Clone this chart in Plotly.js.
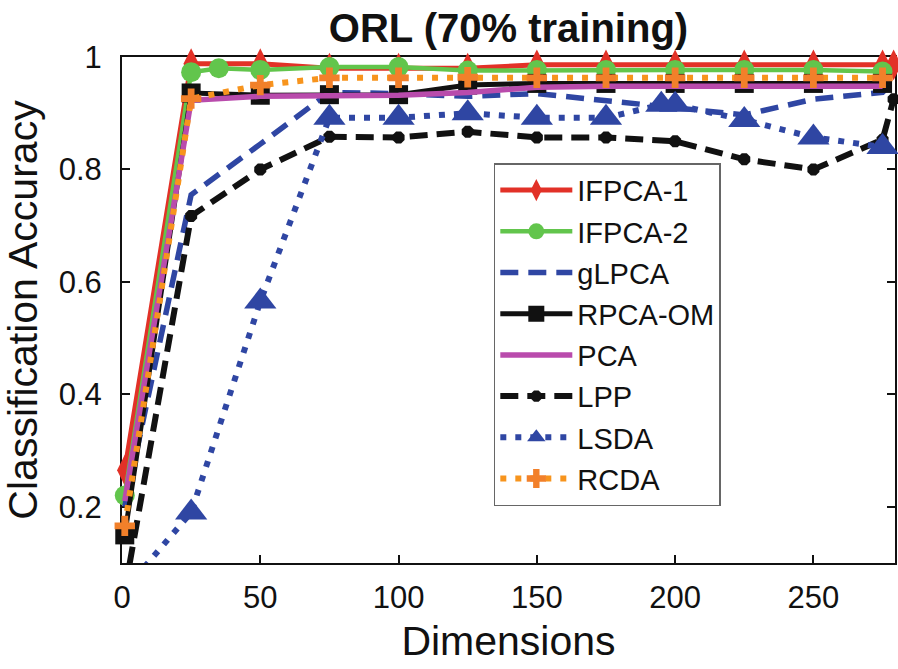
<!DOCTYPE html>
<html>
<head>
<meta charset="utf-8">
<script src="https://cdn.plot.ly/plotly-3.0.1.min.js"></script>
<style>
html, body { margin: 0; padding: 0; background: #fff; }
#chart { width: 898px; height: 669px; }
</style>
</head>
<body>
<div id="chart"></div>
<script>
// ---- data ----
const seriesNames = ["IFPCA-1", "IFPCA-2", "gLPCA", "RPCA-OM", "PCA", "LPP", "LSDA", "RCDA"];

const xIFPCA1 = [1, 25, 50, 75, 100, 125, 150, 175, 200, 225, 250, 275, 279];
const yIFPCA1 = [0.265, 0.988, 0.988, 0.98, 0.98, 0.98, 0.986, 0.986, 0.986, 0.986, 0.986, 0.986, 0.986];

const xIFPCA2 = [1, 25, 35, 50, 75, 100, 125, 150, 175, 200, 225, 250, 275];
const yIFPCA2 = [0.22, 0.973, 0.98, 0.977, 0.982, 0.982, 0.976, 0.977, 0.977, 0.977, 0.977, 0.977, 0.974];

const xGLPCA = [1, 25, 50, 75, 100, 125, 150, 175, 200, 225, 250, 275, 279];
const yGLPCA = [0.2, 0.755, 0.845, 0.937, 0.935, 0.93, 0.935, 0.922, 0.91, 0.897, 0.925, 0.937, 0.957];

const xRPCAOM = [1, 25, 50, 75, 100, 125, 150, 175, 200, 225, 250, 275];
const yRPCAOM = [0.15, 0.936, 0.932, 0.933, 0.933, 0.95, 0.953, 0.953, 0.953, 0.953, 0.953, 0.953];

const xPCA = [1, 25, 50, 75, 100, 125, 150, 175, 200, 225, 250, 275];
const yPCA = [0.21, 0.923, 0.93, 0.93, 0.932, 0.937, 0.946, 0.948, 0.948, 0.948, 0.948, 0.948];

const xLPP = [1, 25, 50, 75, 100, 125, 150, 175, 200, 225, 250, 275, 279];
const yLPP = [0.05, 0.717, 0.8, 0.858, 0.857, 0.867, 0.857, 0.857, 0.85, 0.818, 0.8, 0.853, 0.925];

const xLSDA = [1, 25, 50, 75, 100, 125, 150, 175, 195, 200, 225, 250, 275];
const yLSDA = [0.052, 0.19, 0.565, 0.892, 0.892, 0.9, 0.892, 0.892, 0.915, 0.915, 0.888, 0.857, 0.84];

const xRCDA = [1, 25, 50, 75, 100, 125, 150, 175, 200, 225, 250, 275];
const yRCDA = [0.166, 0.926, 0.95, 0.963, 0.963, 0.964, 0.963, 0.963, 0.963, 0.963, 0.963, 0.963];

const xTickVals = [0, 50, 100, 150, 200, 250];
const xTickText = ["0", "50", "100", "150", "200", "250"];
const yTickVals = [0.2, 0.4, 0.6, 0.8, 1];
const yTickText = ["0.2", "0.4", "0.6", "0.8", "1"];

const chartTitle = "ORL (70% training)";
const xTitle = "Dimensions";
const yTitle = "Classification Accuracy";

// ---- styles ----
const FONT = "Arial, 'Liberation Sans', Helvetica, sans-serif";
function hideFirst(n, s) { return Array.from({length: n}, (_, i) => i === 0 ? 0 : s); }

const traces = [
  { x: xIFPCA1, y: yIFPCA1, name: seriesNames[0], mode: "lines+markers",
    line: { color: "#e23127", width: 5 },
    marker: { symbol: "diamond-tall", size: 22, color: "#e23127" } },
  { x: xIFPCA2, y: yIFPCA2, name: seriesNames[1], mode: "lines+markers",
    line: { color: "#62c54c", width: 4.5 },
    marker: { symbol: "circle", size: 20, color: "#62c54c" } },
  { x: xGLPCA, y: yGLPCA, name: seriesNames[2], mode: "lines",
    line: { color: "#2f46a3", width: 5.5, dash: "18px,10px" } },
  { x: xRPCAOM, y: yRPCAOM, name: seriesNames[3], mode: "lines+markers",
    line: { color: "#111111", width: 5 },
    marker: { symbol: "square", size: 19, color: "#111111" } },
  { x: xPCA, y: yPCA, name: seriesNames[4], mode: "lines",
    line: { color: "#b94bac", width: 5.5 } },
  { x: xLPP, y: yLPP, name: seriesNames[5], mode: "lines+markers",
    line: { color: "#111111", width: 6, dash: "18px,9px" },
    marker: { symbol: "octagon", size: hideFirst(xLPP.length, 13), color: "#111111" } },
  { x: xLSDA, y: yLSDA, name: seriesNames[6], mode: "lines+markers",
    line: { color: "#2f46a3", width: 6, dash: "6px,9px" },
    marker: { symbol: "triangle-up", size: hideFirst(xLSDA.length, 28), color: "#2f46a3" } },
  { x: xRCDA, y: yRCDA, name: seriesNames[7], mode: "lines+markers",
    line: { color: "#f7941d", width: 6, dash: "6px,9px" },
    marker: { symbol: "cross", size: 17, color: "#f2802a" } }
];
traces.forEach((t, i) => {
  t.cliponaxis = false; t.legendgroup = "g" + i; t.type = "scatter";
  if (t.marker) { t.marker.opacity = 1; t.marker.line = { width: 0 }; }
});

const layout = {
  width: 898, height: 669,
  margin: { l: 122, r: 3, t: 57, b: 106, pad: 0 },
  paper_bgcolor: "#ffffff", plot_bgcolor: "#ffffff",
  font: { family: FONT, color: "#111111" },
  showlegend: true,
  title: { text: chartTitle, font: { family: FONT, size: 40, weight: "bold", color: "#111111" },
           x: 0.5, xref: "paper", xanchor: "center", y: 0.958, yref: "container", yanchor: "middle" },
  xaxis: {
    range: [0, 279.5], tickvals: xTickVals, ticktext: xTickText,
    ticks: "inside", ticklen: 8, tickwidth: 2, tickcolor: "#111",
    showline: true, linecolor: "#111", linewidth: 2, mirror: "ticks",
    showgrid: false, zeroline: false, layer: "below traces",
    tickfont: { family: FONT, size: 31, color: "#111" }, ticklabelstandoff: 6,
    title: { text: xTitle, font: { family: FONT, size: 41, color: "#111" }, standoff: 12 }
  },
  yaxis: {
    range: [0.1, 1], tickvals: yTickVals, ticktext: yTickText,
    ticks: "inside", ticklen: 8, tickwidth: 2, tickcolor: "#111",
    showline: true, linecolor: "#111", linewidth: 2, mirror: "ticks",
    showgrid: false, zeroline: false, layer: "below traces",
    tickfont: { family: FONT, size: 31, color: "#111" }, ticklabelstandoff: 12,
    title: { text: yTitle, font: { family: FONT, size: 41, color: "#111" }, standoff: 8 }
  },
  legend: {
    x: 0.481, y: 0.79, xanchor: "left", yanchor: "top",
    bgcolor: "#ffffff", bordercolor: "#666666", borderwidth: 1.5,
    font: { family: FONT, size: 29, color: "#111" },
    traceorder: "grouped", tracegroupgap: 0.5, itemwidth: 72
  }
};

Plotly.newPlot("chart", traces, layout, { staticPlot: true, displayModeBar: false });
</script>
</body>
</html>
